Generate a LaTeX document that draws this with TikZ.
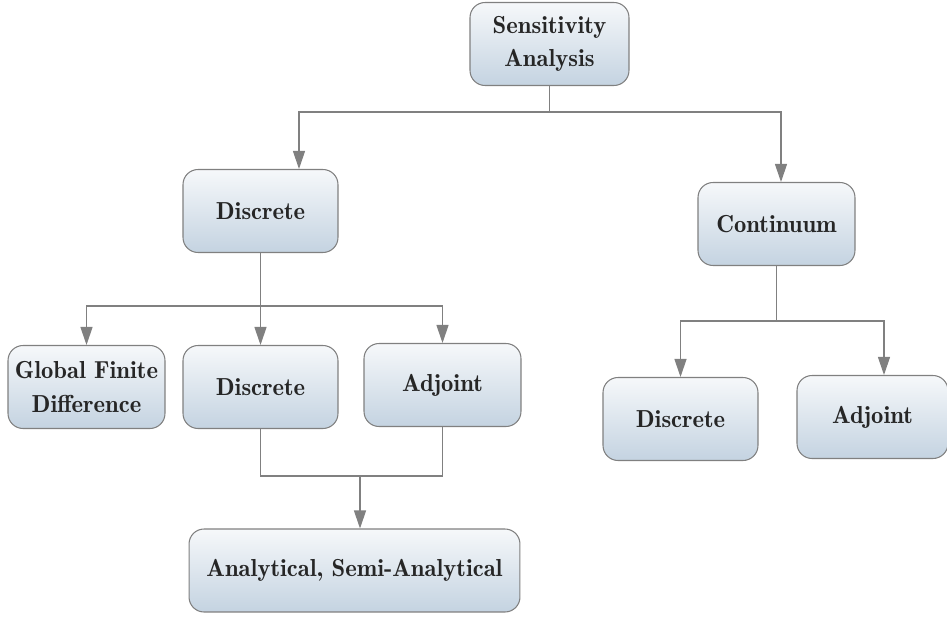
\documentclass[tikz,border=0pt]{standalone}
\usepackage{tikz}
\usetikzlibrary{arrows.meta}

\definecolor{boxtop}{RGB}{246,248,250}
\definecolor{boxbot}{RGB}{196,211,225}
\definecolor{linegray}{RGB}{128,128,128}

\tikzset{
  block/.style={draw=linegray, line width=0.6pt, rounded corners=0.3cm,
    top color=boxtop, bottom color=boxbot, align=center, inner sep=2pt,
    minimum width=3.1cm, minimum height=1.66cm, text=black!85,
    font=\fontsize{14}{18.8}\fontseries{b}\selectfont},
  link/.style={draw=linegray, line width=0.7pt},
  arrow/.style={link, -{Triangle[length=0.36cm,width=0.24cm]}},
}

\begin{document}
\begin{tikzpicture}[x=0.02cm, y=-0.02cm]
  \useasboundingbox (0,0) rectangle (947,619);

  \node[block, minimum width=3.18cm] at (549.5,44) (sens) {Sensitivity\\Analysis};
  \node[block] at (260.5,211) (disc) {Discrete};
  \node[block, minimum width=3.14cm] at (776.5,224) (cont) {Continuum};
  % discrete branch
  \node[block, minimum width=3.14cm] at (86.5,387) (gfd) {Global Finite\\Difference};
  \node[block] at (260.5,387) (ddisc) {Discrete};
  \node[block, minimum width=3.14cm] at (442.5,385) (dadj) {Adjoint};
  \node[block, minimum width=6.62cm] at (354.5,570.5) (ana) {Analytical, Semi-Analytical};
  % continuum branch
  \node[block] at (680.5,419) (cdisc) {Discrete};
  \node[block, minimum width=3.02cm] at (872.5,417) (cadj) {Adjoint};

  \coordinate (sj) at (549.5,112);
  \coordinate (dj) at (260.5,306);
  \coordinate (mj) at (360,476);
  \coordinate (cj) at (776.5,321);

  \draw[link] (sens) -- (sj);
  \draw[arrow] (sj) -| ([xshift=0.77cm]disc.north);
  \draw[arrow] (sj) -| ([xshift=0.09cm]cont.north);

  \draw[link] (disc) -- (dj);
  \draw[arrow] (dj) -| (gfd.north);
  \draw[arrow] (dj) -- (ddisc);
  \draw[arrow] (dj) -| (dadj.north);

  \draw[link] (ddisc.south) |- (mj) -| (dadj.south);
  \draw[arrow] (mj) -- (mj |- ana.north);

  \draw[link] (cont) -- (cj);
  \draw[arrow] (cj) -| (cdisc.north);
  \draw[arrow] (cj) -| ([xshift=0.23cm]cadj.north);
\end{tikzpicture}
\end{document}
